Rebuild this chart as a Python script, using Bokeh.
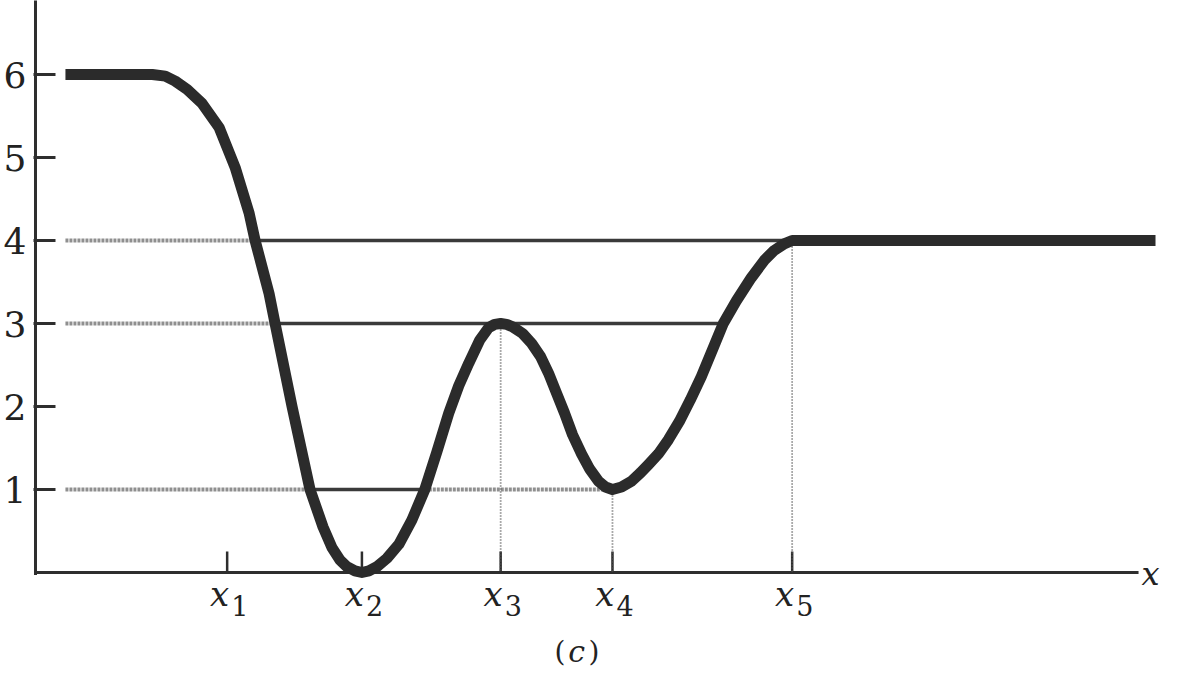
from bokeh.plotting import figure
from bokeh.models import Range1d, FixedTicker, ColumnDataSource
from bokeh.core.properties import value
from bokeh.embed import file_html
from bokeh.resources import INLINE

# ---------------- data ----------------
curve_x = [0.30, 0.70, 1.17, 1.30, 1.40, 1.52, 1.67, 1.84, 2.00, 2.14, 2.20, 2.34, 2.40,
           2.57, 2.75, 2.88, 2.97, 3.05, 3.12, 3.20, 3.27, 3.34, 3.42, 3.52, 3.64, 3.77,
           3.90, 4.02, 4.14, 4.24, 4.34, 4.45, 4.54, 4.60, 4.66, 4.72, 4.78, 4.88, 4.97,
           5.06, 5.14, 5.22, 5.30, 5.38, 5.47, 5.55, 5.64, 5.71, 5.78, 5.87, 5.97, 6.06,
           6.14, 6.24, 6.34, 6.45, 6.56, 6.67, 6.78, 6.89, 7.02, 7.17, 7.30, 7.40, 7.50,
           7.58, 11.22]
curve_y = [6.00, 6.00, 6.00, 5.98, 5.92, 5.82, 5.65, 5.36, 4.88, 4.33, 4.00, 3.36, 3.00,
           2.00, 1.00, 0.55, 0.30, 0.15, 0.07, 0.02, 0.00, 0.02, 0.07, 0.17, 0.34, 0.63,
           1.00, 1.45, 1.92, 2.25, 2.52, 2.80, 2.95, 2.99, 3.00, 2.99, 2.96, 2.88, 2.76,
           2.60, 2.40, 2.16, 1.92, 1.66, 1.43, 1.25, 1.10, 1.03, 1.00, 1.03, 1.10, 1.20,
           1.30, 1.43, 1.60, 1.82, 2.08, 2.36, 2.68, 3.00, 3.27, 3.55, 3.76, 3.88, 3.96,
           4.00, 4.00]

# energy levels: allowed (dark) and forbidden (grey) parts
allowed_E = [4, 3, 1]
allowed_x0 = [2.20, 2.40, 2.75]
allowed_x1 = [7.58, 6.89, 3.90]
forbidden_E = [4, 3, 1, 1]
forbidden_x0 = [0.30, 0.30, 0.30, 3.90]
forbidden_x1 = [2.20, 2.40, 2.75, 5.78]

# turning points marked with dotted drop lines
drop_x = [4.66, 5.78, 7.58]
drop_E = [3, 1, 4]

# axis ticks / labels
y_ticks = [1, 2, 3, 4, 5, 6]
x_ticks = [1.92, 3.27, 4.66, 5.78, 7.58]
x_tick_var = ["x", "x", "x", "x", "x"]
x_tick_sub = ["1", "2", "3", "4", "5"]
x_axis_end = 11.05
y_axis_top = 6.95
axis_name = "x"
caption = "c"

# ---------------- figure ----------------
PX_Y = 83.0   # pixels per y unit (label placement only)
W, H = 1162, 670
LEFT = 31     # frame left edge in px; y axis line (x=0) sits at px 33
x_start = -(33 - LEFT) / 100.0
x_end = x_start + (W - LEFT) / 100.0
y_end = 572 / PX_Y
y_start = y_end - H / PX_Y
TXT_SHIFT = 10  # px correction for baseline rendering


def y_at(px):
    return (572 - px + TXT_SHIFT) / PX_Y


p = figure(width=W, height=H,
           x_range=Range1d(x_start, x_end), y_range=Range1d(y_start, y_end),
           output_backend="svg", toolbar_location=None,
           min_border_left=LEFT, min_border_right=0, min_border_top=0, min_border_bottom=0)
p.background_fill_color = "white"
p.border_fill_color = "white"
p.outline_line_color = None
p.xgrid.visible = False
p.ygrid.visible = False
p.xaxis.visible = False

ink = "#2e2e2e"
txt = "#222222"
SERIF = "DejaVu Serif"

yax = p.yaxis[0]
yax.ticker = FixedTicker(ticks=y_ticks)
yax.major_tick_in = 22
yax.major_tick_out = 0
yax.minor_tick_line_color = None
yax.axis_line_color = None
yax.major_tick_line_width = 3
yax.major_tick_line_color = ink
yax.major_label_text_font = SERIF
yax.major_label_text_font_size = "36px"
yax.major_label_text_color = txt
yax.major_label_standoff = 7

# axis lines
p.segment(x0=[0], y0=[-0.03], x1=[0], y1=[y_axis_top], line_width=3, line_color=ink)
p.segment(x0=[0], y0=[0], x1=[x_axis_end], y1=[0], line_width=3, line_color=ink)
# x ticks (pointing up from the axis)
p.segment(x0=x_ticks, y0=[0] * len(x_ticks), x1=x_ticks, y1=[21 / PX_Y] * len(x_ticks),
          line_width=2.5, line_color=ink)

# forbidden (grey) parts of energy levels
p.segment(x0=forbidden_x0, y0=forbidden_E, x1=forbidden_x1, y1=forbidden_E,
          line_width=4, line_color="#8f8f8f", line_dash="3 1")
# allowed (dark) parts
p.segment(x0=allowed_x0, y0=allowed_E, x1=allowed_x1, y1=allowed_E,
          line_width=3.5, line_color="#3a3a3a")
# dotted drop lines
p.segment(x0=drop_x, y0=drop_E, x1=drop_x, y1=[0] * len(drop_x),
          line_width=1.8, line_color="#555555", line_dash="1 2")

# potential energy curve
p.line(curve_x, curve_y, line_width=11, line_color="#2b2b2b",
       line_join="round", line_cap="butt")

# x tick labels: italic x with subscript digit
src = ColumnDataSource(dict(x=x_ticks, v=x_tick_var, s=x_tick_sub))
p.text(x="x", y=y_at(603), text="v", source=src,
       x_offset=2, text_align="right", text_baseline="alphabetic",
       text_font=value(SERIF), text_font_style="italic",
       text_font_size="34px", text_color=txt)
p.text(x="x", y=y_at(615), text="s", source=src,
       x_offset=4, text_align="left", text_baseline="alphabetic",
       text_font=value(SERIF), text_font_size="27px", text_color=txt)

# axis name
p.text(x=[11.08], y=[y_at(583)], text=[axis_name], text_align="left",
       text_baseline="alphabetic", text_font=value(SERIF),
       text_font_style="italic", text_font_size="32px", text_color=txt)

# caption "(c)"
cap_x = 5.42
cap_y = y_at(661)
p.text(x=[cap_x], y=[cap_y], text=["("], x_offset=-11, text_align="right",
       text_baseline="alphabetic", text_font=value(SERIF),
       text_font_size="28px", text_color=txt)
p.text(x=[cap_x], y=[cap_y], text=[caption], text_align="center",
       text_baseline="alphabetic", text_font=value(SERIF),
       text_font_style="italic", text_font_size="30px", text_color=txt)
p.text(x=[cap_x], y=[cap_y], text=[")"], x_offset=12, text_align="left",
       text_baseline="alphabetic", text_font=value(SERIF),
       text_font_size="28px", text_color=txt)

open("out.html", "w").write(file_html(p, INLINE))
